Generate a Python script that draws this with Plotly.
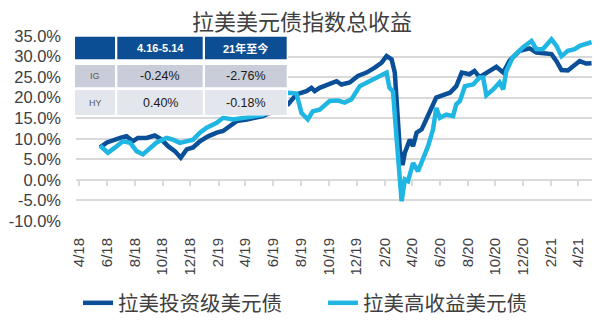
import plotly.graph_objects as go

# ---------------- data ----------------
ig_dates = ["2018-05-17","2018-06-01","2018-06-30","2018-07-14","2018-07-28","2018-08-08","2018-08-27",
            "2018-09-14","2018-09-29","2018-10-13","2018-10-28","2018-11-10","2018-11-23","2018-12-07",
            "2018-12-22","2019-01-09","2019-01-28","2019-02-11","2019-02-26","2019-03-13","2019-04-04",
            "2019-05-09","2019-06-05","2019-07-04","2019-07-22","2019-08-13","2019-08-24","2019-08-31",
            "2019-09-11","2019-10-03","2019-10-18","2019-10-29","2019-11-16","2019-12-04","2019-12-23",
            "2020-01-10","2020-01-25","2020-02-05","2020-02-16","2020-02-23","2020-02-27","2020-03-05",
            "2020-03-11","2020-03-16","2020-03-27","2020-04-03","2020-04-11","2020-04-22","2020-05-02",
            "2020-05-13","2020-05-24","2020-06-08","2020-06-23","2020-07-07","2020-07-19","2020-08-05",
            "2020-08-16","2020-08-27","2020-09-18","2020-10-03","2020-10-18","2020-11-01","2020-11-23",
            "2020-12-15","2020-12-30","2021-01-21","2021-02-01","2021-02-12","2021-02-23","2021-03-09",
            "2021-03-20","2021-04-04","2021-04-18","2021-04-30"]
ig_values = [7.9, 9.1, 10.2, 10.6, 9.4, 10.2, 10.2,
             10.8, 9.8, 8.2, 7.0, 5.4, 7.4, 7.9,
             9.4, 10.6, 11.5, 11.9, 13.1, 14.3, 14.7,
             15.5, 16.8, 18.4, 20.8, 21.6, 22.4, 21.6,
             22.4, 23.2, 24.0, 23.2, 23.7, 25.3, 26.1,
             27.3, 28.5, 30.1, 29.3, 26.1, 18.0, 7.4,
             3.6, 6.6, 9.8, 8.2, 11.5, 12.3, 14.7,
             17.1, 20.0, 20.6, 21.2, 22.8, 26.1, 25.7,
             26.5, 25.0, 26.5, 27.5, 26.1, 29.0, 31.4,
             32.0, 31.0, 30.9, 30.6, 28.9, 26.7, 26.6,
             27.5, 28.9, 28.3, 28.4]

hy_dates = ["2018-05-17","2018-06-03","2018-06-19","2018-07-06","2018-07-22","2018-08-05","2018-08-19",
            "2018-09-03","2018-09-18","2018-10-10","2018-10-24","2018-11-08","2018-11-23","2018-12-07",
            "2018-12-22","2019-01-06","2019-01-28","2019-02-11","2019-03-05","2019-03-27","2019-04-26",
            "2019-05-09","2019-06-05","2019-06-20","2019-07-04","2019-07-22","2019-08-02","2019-08-16",
            "2019-08-27","2019-09-11","2019-10-03","2019-10-21","2019-11-05","2019-11-20","2019-12-08",
            "2019-12-30","2020-01-17","2020-02-05","2020-02-11","2020-02-19","2020-02-27","2020-03-05",
            "2020-03-09","2020-03-12","2020-03-16","2020-03-23","2020-04-03","2020-04-14","2020-04-25",
            "2020-05-06","2020-05-17","2020-05-24","2020-06-01","2020-06-15","2020-06-30","2020-07-07",
            "2020-07-15","2020-07-26","2020-08-13","2020-08-27","2020-09-04","2020-09-11","2020-09-26",
            "2020-10-10","2020-10-18","2020-10-25","2020-11-08","2020-11-30","2020-12-19","2020-12-30",
            "2021-01-13","2021-02-01","2021-02-12","2021-02-23","2021-03-09","2021-03-24","2021-04-04",
            "2021-04-15","2021-04-30"]
hy_values = [8.3, 6.6, 7.9, 9.4, 9.0, 7.0, 6.2,
             7.8, 9.1, 10.2, 9.8, 9.0, 9.4, 9.8,
             11.5, 12.7, 13.9, 15.1, 14.7, 15.1, 15.5,
             15.8, 18.5, 21.0, 21.2, 21.0, 16.3, 14.7,
             16.7, 17.1, 19.2, 19.3, 18.8, 19.6, 22.8,
             24.0, 24.9, 26.1, 22.5, 21.5, 10.0, -2.0,
             -5.2, -3.0, 0.1, -0.3, 4.1, 2.1, 5.0,
             8.2, 12.3, 17.5, 15.1, 15.9, 15.5, 18.4,
             19.2, 22.8, 23.2, 24.9, 24.9, 20.6, 22.0,
             23.7, 22.0, 26.5, 29.8, 32.2, 33.8, 31.8,
             31.8, 34.2, 32.6, 30.1, 31.4, 31.8, 32.6,
             33.0, 33.5]

series_names = ["拉美投资级美元债", "拉美高收益美元债"]

tick_dates = ["2018-04-01","2018-06-01","2018-08-01","2018-10-01","2018-12-01","2019-02-01",
              "2019-04-01","2019-06-01","2019-08-01","2019-10-01","2019-12-01","2020-02-01",
              "2020-04-01","2020-06-01","2020-08-01","2020-10-01","2020-12-01","2021-02-01",
              "2021-04-01"]
tick_labels = ["4/18","6/18","8/18","10/18","12/18","2/19","4/19","6/19","8/19","10/19",
               "12/19","2/20","4/20","6/20","8/20","10/20","12/20","2/21","4/21"]

y_ticks = [-10, -5, 0, 5, 10, 15, 20, 25, 30, 35]
y_labels = ["-10.0%", "-5.0%", "0.0%", "5.0%", "10.0%", "15.0%", "20.0%", "25.0%", "30.0%", "35.0%"]

table_header = ["", "4.16-5.14", "21年至今"]
table_rows = ["IG", "HY"]
table_period = ["-0.24%", "0.40%"]
table_ytd = ["-2.76%", "-0.18%"]

title_text = "拉美美元债指数总收益"

# ---------------- layout geometry ----------------
W, H = 611, 325
ML, MR, MT, MB = 76, 19, 36, 104
PW, PH = W - ML - MR, H - MT - MB

def px(x):
    return (x - ML) / PW

def py(y):
    return (H - MB - y) / PH

IG_COLOR = "#0A4F97"
HY_COLOR = "#20B6E3"
GRID = "#D9D9D9"
TXT = "#404040"
NUMFONT = "Liberation Sans, Arial, sans-serif"
CJK = "Noto Sans CJK SC, sans-serif"

fig = go.Figure()
fig.add_trace(go.Scatter(x=ig_dates, y=ig_values, mode="lines", name=series_names[0],
                         line=dict(color=IG_COLOR, width=4.5)))
fig.add_trace(go.Scatter(x=hy_dates, y=hy_values, mode="lines", name=series_names[1],
                         line=dict(color=HY_COLOR, width=4.5)))

x_range = ["2018-03-25", "2021-05-01"]

fig.update_layout(
    width=W, height=H,
    margin=dict(l=ML, r=MR, t=MT, b=MB, pad=0, autoexpand=False),
    paper_bgcolor="white", plot_bgcolor="white",
    showlegend=True,
    hovermode=False,
    title=dict(text=title_text, x=302 / W, xanchor="center", y=1 - 22 / H, yanchor="middle",
               font=dict(family=CJK, size=22, color=TXT)),
    legend=dict(orientation="h", xref="container", x=78 / W, xanchor="left",
                yref="container", y=1 - 303 / H, yanchor="middle",
                font=dict(family=CJK, size=20.5, color=TXT), bgcolor="rgba(0,0,0,0)",
                entrywidth=200, entrywidthmode="pixels", itemwidth=30, tracegroupgap=0),
    xaxis=dict(type="date", range=x_range, tickvals=tick_dates, ticktext=tick_labels,
               tickangle=-90, showgrid=False, zeroline=False, showline=False, ticks="",
               ticklabelstandoff=13, automargin=False,
               tickfont=dict(family=NUMFONT, size=15, color=TXT)),
    xaxis2=dict(type="date", range=x_range, tickvals=tick_dates, overlaying="x",
                anchor="free", position=py(180), side="bottom", showticklabels=False,
                showgrid=False, zeroline=False, showline=False, automargin=False,
                ticks="outside", ticklen=5, tickwidth=1.5, tickcolor=GRID),
    yaxis=dict(range=[-10.001, 35.001], tickvals=y_ticks, ticktext=y_labels,
               showgrid=True, gridcolor=GRID, gridwidth=1.5, zeroline=False, showline=False,
               ticks="", ticklabelstandoff=14, automargin=False,
               tickfont=dict(family=NUMFONT, size=16.5, color=TXT)),
)

# invisible trace so the tick-only axis is drawn
fig.add_trace(go.Scatter(x=[ig_dates[0]], y=[ig_values[0]], xaxis="x2", mode="markers",
                         marker=dict(opacity=0), showlegend=False))

# ---------------- table overlay ----------------
shapes = []
shapes.append(dict(type="rect", xref="paper", yref="paper", layer="above",
                   x0=px(73), x1=px(288), y0=py(34), y1=py(115.6),
                   fillcolor="white", line=dict(width=0)))
cols = [(75, 115), (117.3, 202.7), (205, 286.7)]
rows = [(36.7, 59.3, "#0C4E94"), (65, 87.3, "#C8CDD9"), (90, 115, "#E3E6ED")]
for (y0, y1, c) in rows:
    for (x0, x1) in cols:
        shapes.append(dict(type="rect", xref="paper", yref="paper", layer="above",
                           x0=px(x0), x1=px(x1), y0=py(y1), y1=py(y0),
                           fillcolor=c, line=dict(width=0)))
fig.update_layout(shapes=shapes)

ann = []
col_cx = [(a + b) / 2 for a, b in cols]
row_cy = [(a + b) / 2 for a, b, _ in rows]
for i, t in enumerate(table_header):
    if t:
        ann.append(dict(text="<b>%s</b>" % t, x=px(col_cx[i]), y=py(row_cy[0]), xref="paper", yref="paper",
                        showarrow=False, xanchor="center", yanchor="middle",
                        font=dict(family="Liberation Sans, Noto Sans CJK SC, sans-serif", size=11, color="white")))
for r in range(2):
    ann.append(dict(text=table_rows[r], x=px(col_cx[0]), y=py(row_cy[r + 1]), xref="paper", yref="paper",
                    showarrow=False, xanchor="center", yanchor="middle",
                    font=dict(family=NUMFONT, size=9, color="#595959")))
    ann.append(dict(text=table_period[r], x=px(col_cx[1]), y=py(row_cy[r + 1]), xref="paper", yref="paper",
                    showarrow=False, xanchor="center", yanchor="middle",
                    font=dict(family=NUMFONT, size=12.5, color="#1A1A1A")))
    ann.append(dict(text=table_ytd[r], x=px(col_cx[2]), y=py(row_cy[r + 1]), xref="paper", yref="paper",
                    showarrow=False, xanchor="center", yanchor="middle",
                    font=dict(family=NUMFONT, size=12.5, color="#1A1A1A")))
fig.update_layout(annotations=ann)

fig.write_html("out.html", config={"displayModeBar": False})
